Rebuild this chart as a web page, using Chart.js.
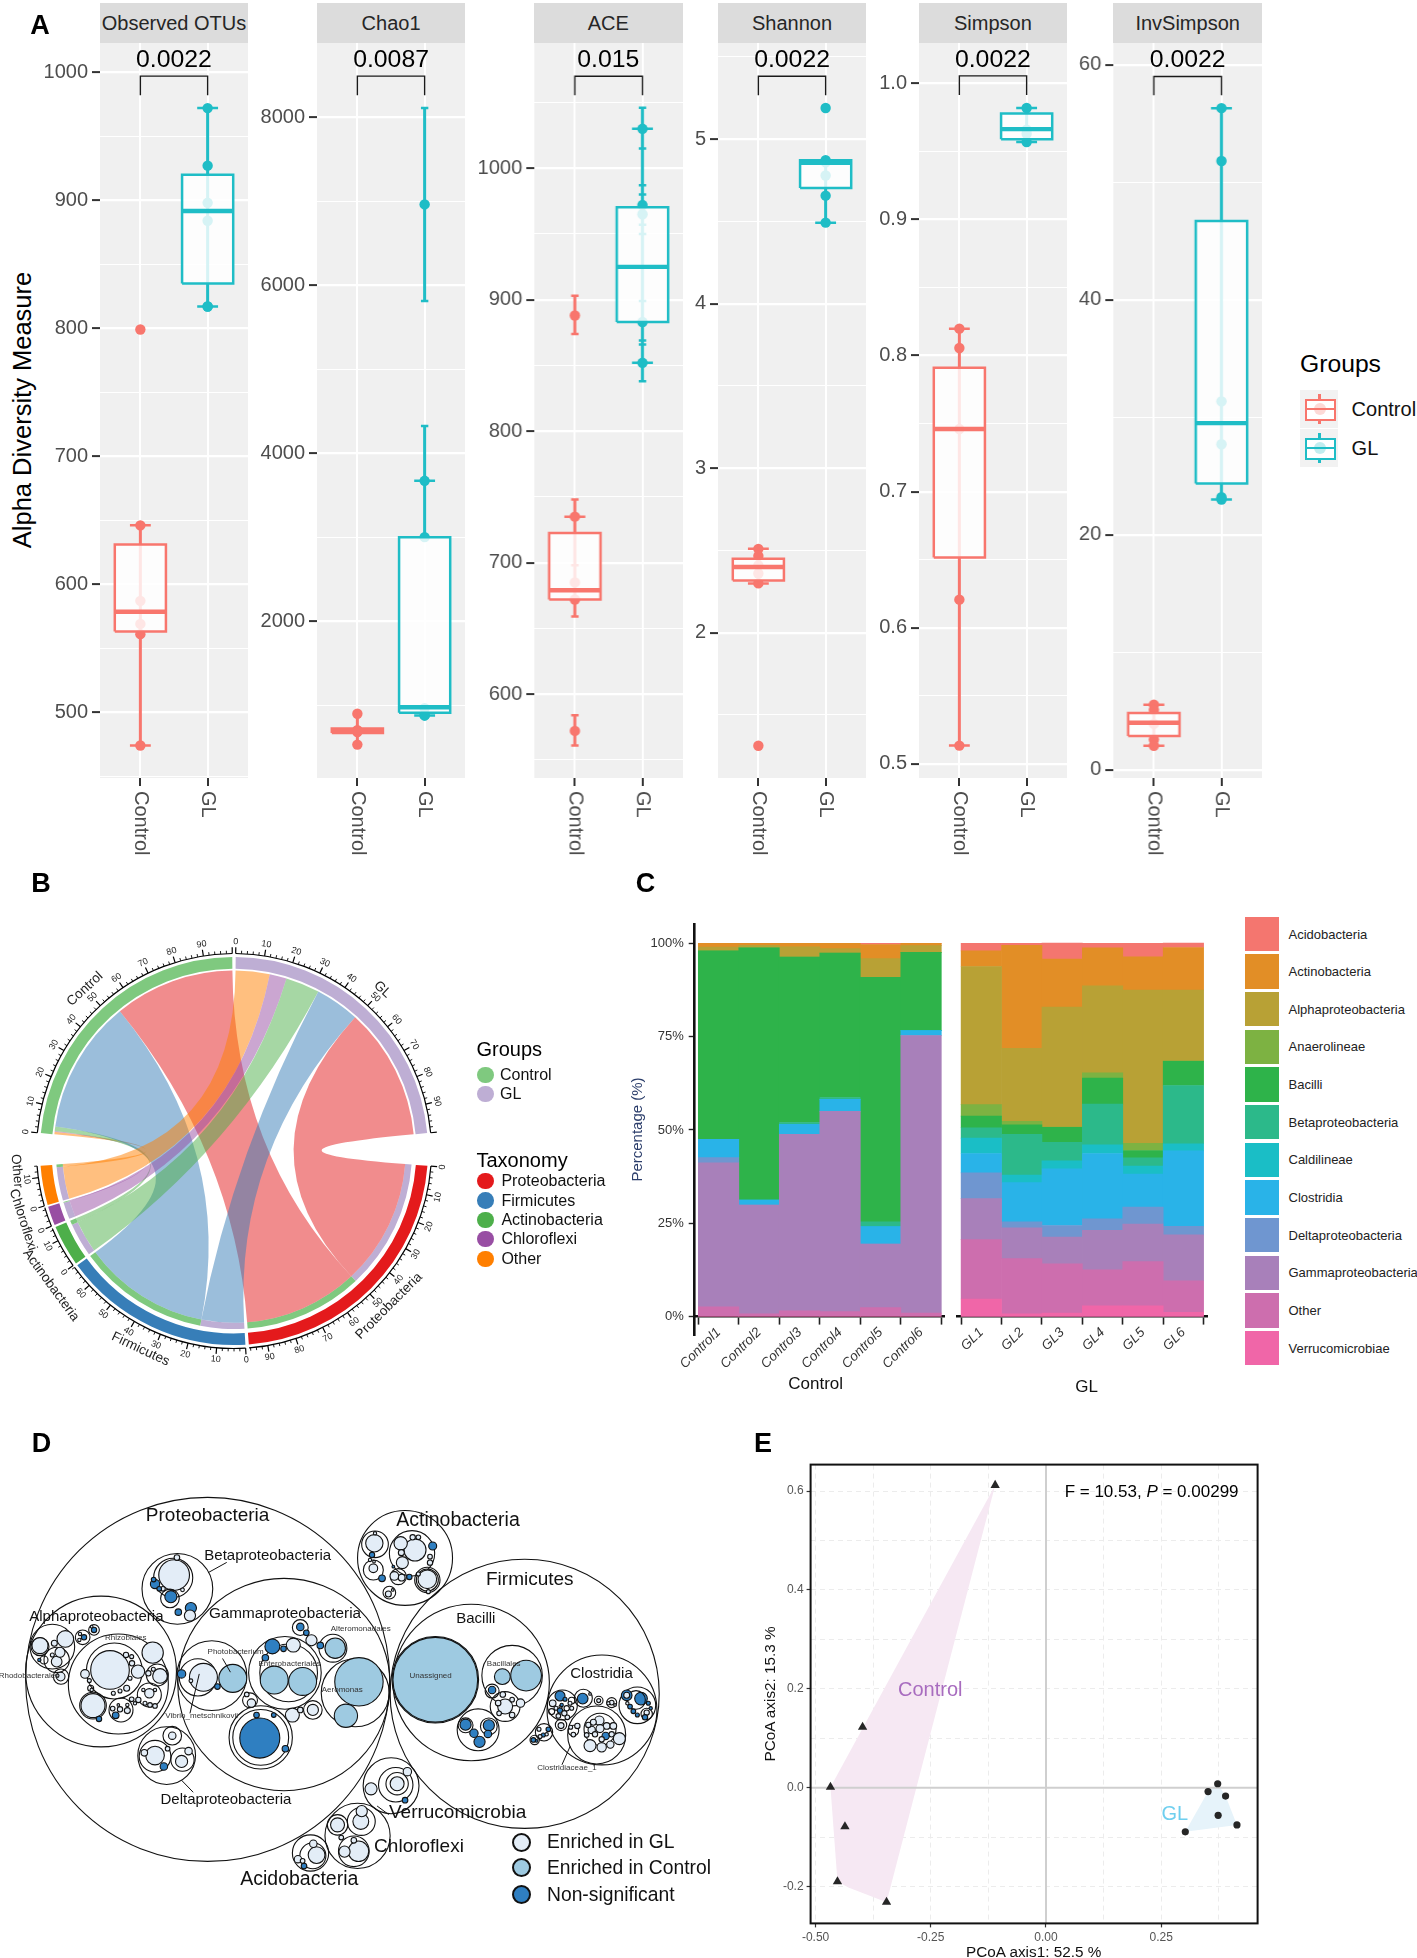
<!DOCTYPE html>
<html><head><meta charset="utf-8">
<script src="https://cdn.jsdelivr.net/npm/chart.js@4"></script>
<style>
html,body{margin:0;padding:0;background:#fff}
#page{position:relative;width:1417px;height:1958px;overflow:hidden;font-family:"Liberation Sans",Arial,sans-serif}
canvas{position:absolute}
.t{position:absolute;left:0;top:0;white-space:nowrap;line-height:1;transform-origin:0 0}
.r{position:absolute}
</style></head><body><div id="page"></div>
<script>
/* ---------- Panel A data ---------- */
const groupNames=['Control','GL'];
const otuCtrlPoints=[799,646,587,569,561,474], otuCtrlBox=[563,578.5,631], otuCtrlWhisk=[[474,646]], otuCtrlCaps=[474,646], otuCtrlSmall=[];
const otuGlPoints=[972,927,898,884,817,817], otuGlBox=[835,891.6,920], otuGlWhisk=[[817,972]], otuGlCaps=[817,972], otuGlSmall=[];
const chaoCtrlPoints=[897,700,694,680,530], chaoCtrlBox=[668,694,720], chaoCtrlWhisk=[[530,897]], chaoCtrlCaps=[], chaoCtrlSmall=[];
const chaoGlPoints=[6962,3671,3000,962,877,877], chaoGlBox=[909,975,3000], chaoGlWhisk=[[5813,8111],[3000,4324],[877,909]], chaoGlCaps=[3671,877], chaoGlSmall=[8111,5813,4324,3000];
const aceCtrlPoints=[888,735,685,672,572], aceCtrlBox=[672,679,722.6], aceCtrlWhisk=[[874,903],[659,748],[561,584]], aceCtrlCaps=[735], aceCtrlSmall=[903,874,748,698,659,584,561];
const aceGlPoints=[1030,972,965,883,852], aceGlBox=[883,925,970.4], aceGlWhisk=[[838,1046]], aceGlCaps=[1030,852], aceGlSmall=[1046,1015,987,980,957,950,899,869,866,838];
const shanCtrlPoints=[2.51,2.467,2.41,2.36,2.30,1.313], shanCtrlBox=[2.317,2.40,2.45], shanCtrlWhisk=[[2.30,2.51]], shanCtrlCaps=[2.30,2.51], shanCtrlSmall=[];
const shanGlPoints=[5.19,4.873,4.86,4.78,4.657,4.493], shanGlBox=[4.703,4.857,4.873], shanGlWhisk=[[4.493,4.873]], shanGlCaps=[4.493,4.873], shanGlSmall=[];
const simpCtrlPoints=[.8198,.8056,.746,.6206,.5133], simpCtrlBox=[.6516,.746,.791], simpCtrlWhisk=[[.5133,.8198]], simpCtrlCaps=[.5133,.8198], simpCtrlSmall=[];
const simpGlPoints=[.982,.966,.963,.957], simpGlBox=[.959,.9665,.978], simpGlWhisk=[[.957,.982]], simpGlCaps=[.957,.982], simpGlSmall=[];
const invCtrlPoints=[5.54,5.1,3.9,2.57,2.04], invCtrlBox=[2.88,4.0,4.84], invCtrlWhisk=[[2.04,5.54]], invCtrlCaps=[2.04,5.54], invCtrlSmall=[];
const invGlPoints=[56.3,51.8,31.35,27.7,23.2,23.0], invGlBox=[24.35,29.5,46.7], invGlWhisk=[[23,56.3]], invGlCaps=[23,56.3], invGlSmall=[];
const metricNames=['Observed OTUs','Chao1','ACE','Shannon','Simpson','InvSimpson'];
const metricP=['0.0022','0.0087','0.015','0.0022','0.0022','0.0022'];
const metricRange=[[448.6,1023.1],[132,8888],[536.2,1095.5],[1.117,5.587],[.4895,1.030],[-.7,61.87]];
const metricMajor=[[500,600,700,800,900,1000],[2000,4000,6000,8000],[600,700,800,900,1000],[2,3,4,5],[.5,.6,.7,.8,.9,1.0],[0,20,40,60]];
const metricMinor=[[450,550,650,750,850,950],[1000,3000,5000,7000],[550,650,750,850,950,1050],[1.5,2.5,3.5,4.5,5.5],[.55,.65,.75,.85,.95],[10,30,50]];
const metricBracket=[[982,997],[8261,8490],[1055.5,1070],[5.267,5.383],[.9915,1.0056],[57.4,59.0]];

/* ---------- Panel B data ---------- */
const chordTaxa=['Proteobacteria','Firmicutes','Actinobacteria','Chloroflexi','Other'];
const chordFromGL=[50.5,17,13,6.5,13];
const chordFromControl=[46,51,1.7,0.3,1];
const chordLabels=['GL','','Proteobacteria','','Firmicutes','','Actinobacteria','','Chloroflexi','','Other','','Control',''];
const chordTrack=[100,11.5,96.5,1.2,68,.8,14.7,.8,6.8,.6,14,11.5,100,1.2];
const chordLabelR=[1.13,0,1.13,0,1.13,0,1.17,0,1.145,0,1.125,0,1.135,0];
const chordLabelShift=[0,0,0,0,0,0,-7,0,1.5,0,5,0,0,0];
const chordColors=['#beaed4','transparent','#e41a1c','transparent','#377eb8','transparent','#4daf4a','transparent','#984ea3','transparent','#ff7f00','transparent','#7fc97f','transparent'];
const chordRibbon={Proteobacteria:'rgba(228,26,28,.5)',Firmicutes:'rgba(55,126,184,.5)',Actinobacteria:'rgba(77,175,74,.5)',Chloroflexi:'rgba(152,78,163,.5)',Other:'rgba(255,127,0,.5)'};
const groupLegendB=['Control','GL'], groupLegendBCol=['#7fc97f','#beaed4'];

/* ---------- Panel C data ---------- */
const sampleNames=['Control1','Control2','Control3','Control4','Control5','Control6','GL1','GL2','GL3','GL4','GL5','GL6'];
const taxaC=['Acidobacteria','Actinobacteria','Alphaproteobacteria','Anaerolineae','Bacilli','Betaproteobacteria','Caldilineae','Clostridia','Deltaproteobacteria','Gammaproteobacteria','Other','Verrucomicrobiae'];
const taxaCColors=['#F4766F','#E28E26','#B8A135','#7DB242','#2EB34A','#2CB98A','#1ABEC6','#29B3E8','#6F96D0','#A880BA','#CD6EAE','#F066A8'];
const acido=[0,0,0,0,.3,0, 2,.5,4.3,1.2,3.6,1.2];
const actino=[1,.5,.9,1.4,3.8,.6, 4.2,27.6,12.9,10.2,8.9,11.4];
const alpha=[1,.7,2.8,1.2,5,1.8, 37,19.6,32.1,23.3,41.1,19];
const anaero=[0,0,0,0,0,0, 3.1,.9,.1,1.4,1.9,.1];
const bacilli=[50.5,67.6,44.3,38.7,65.5,21, 3.1,2.6,4,7,2,6.5];
const beta=[0,0,.5,.5,1.3,0, 2.8,10.9,5,10.9,2.2,15.6];
const caldi=[0,0,0,0,0,0, 4.1,2,2.1,2.3,2.1,1.9];
const clostr=[4.9,1.3,2.7,3.2,4.7,1.3, 5.2,10.5,15.2,17.5,8.9,20.2];
const delta=[1.4,0,0,0,0,0, 6.9,1.6,3.1,3.1,4.5,2.3];
const gamma=[38.6,29.2,47.3,53.7,17,74.4, 11,8.3,7.2,10.6,10.1,12.3];
const otherC=[2.6,.7,1.5,1.3,2.4,.9, 15.9,14.8,13.2,9.6,11.8,8.5];
const verruc=[0,0,0,0,0,0, 4.7,.7,.9,2.9,2.9,1.1];
const seriesC=[acido,actino,alpha,anaero,bacilli,beta,caldi,clostr,delta,gamma,otherC,verruc];
const pctTicks=[0,25,50,75,100];

/* ---------- Panel D data: packed circles [x, y, radius, kind]; kind 0 outline, 1 GL, 2 Control, 3 non-significant ---------- */
const phylaCircles=[[446,756,391,0],[1127,798,289,0],[870,402,102,0],[840,1066,60,0],[768,1212,70,0],[667,1262,39,0]];
const classCircles=[[610,771,228,0],[217,733,162,0],[381,492,76,0],[358,978,62,0],[1012,765,168,0],[1293,845,118,0]];
const betaCircles=[[372,460,42,0],[374,452,33,1],[380,401,6,1],[333,478,10,3],[365,520,20,0],[367,515,13,3],[410,548,12,3],[408,570,12,1],[383,560,7,3],[350,492,5,1],[392,495,4,1],[342,492,5,3],[330,465,5,3]];
const gammaCircles=[[455,745,75,0],[425,750,40,0],[437,750,30,1],[500,753,30,2],[390,740,9,3],[467,777,6,3],[410,760,4,1],[612,737,78,0],[620,737,62,0],[589,758,30,2],[650,762,30,2],[585,660,16,3],[630,656,15,1],[609,667,6,3],[570,693,7,3],[763,795,73,0],[771,763,52,2],[743,862,25,2],[715,665,30,0],[720,665,22,2],[669,642,12,1],[645,605,17,0],[645,603,8,3],[658,620,6,3],[688,657,7,3],[560,925,68,0],[560,925,60,0],[558,927,43,3],[551,860,6,3],[588,860,5,3],[628,860,15,1],[613,958,7,3],[645,845,6,1],[672,845,20,0],[672,845,12,1],[537,817,16,0],[540,825,9,1],[530,800,5,1]];
const bacilliCircles=[[935,757,93,2],[935,757,91,0],[1100,745,65,0],[1130,745,33,2],[1079,748,17,2],[1027,903,45,0],[1000,890,16,0],[1000,888,12,3],[1050,893,18,0],[1050,890,12,3],[1018,913,9,3],[1030,938,12,3],[1048,915,8,3],[1085,835,32,0],[1085,835,16,1],[1070,825,6,1],[1057,790,15,0],[1057,787,8,3],[1118,825,9,1],[1080,800,6,1],[1100,860,6,1],[1072,855,5,1],[1100,815,5,1]];
const deltaCircles=[[333,980,34,0],[333,978,20,1],[310,970,7,1],[370,920,20,0],[370,920,8,1],[392,990,25,0],[390,995,13,1],[352,1010,8,3],[405,965,8,1],[360,958,5,1]];
const minorPhylaCircles=[[850,1063,37,0],[853,1060,24,0],[853,1060,15,1],[797,1075,13,1],[875,1025,9,1],[870,1108,6,3],[776,1170,30,0],[775,1170,17,1],[777,1140,12,1],[725,1180,22,0],[725,1180,15,1],[733,1217,5,1],[760,1257,33,0],[770,1257,22,1],[740,1258,12,1],[760,1225,6,1],[672,1270,28,0],[680,1268,18,1],[673,1235,8,1],[640,1280,8,1],[653,1300,6,3],[650,1285,5,1]];
const leaderLines=[[487,415,447,445],[390,1050,415,1085],[478,695,495,735],[428,740,408,855],[1225,950,1207,1005],[810,1125,835,1150]];
/* finer readings, in their own reading grid (origin then 3 grid units per pixel) */
const clostrOrigin=[530,1640];
const clostrCircles=[[97,195,45,0],[90,168,15,3],[105,178,6,3],[68,190,10,1],[125,182,10,0],[120,190,6,1],[92,200,5,1],[78,205,6,1],[110,205,8,0],[90,212,8,3],[103,220,8,1],[85,228,7,1],[112,232,7,1],[65,215,9,0],[125,205,6,1],[95,195,5,3],
 [160,175,27,0],[158,176,16,3],[180,162,4,1],[206,182,13,0],[206,182,6,1],[245,188,15,0],[245,188,7,1],[235,190,5,1],[255,195,4,1],
 [322,196,55,0],[333,176,19,3],[318,180,28,0],[290,166,16,3],[290,166,9,1],[350,222,17,0],[350,218,8,1],[345,232,8,3],[310,214,7,3],[300,200,7,3],[292,190,5,1],[322,225,6,3],[355,190,6,3],[362,205,5,3],
 [200,285,87,0],[210,268,48,0],[208,242,14,1],[230,258,10,1],[210,266,12,1],[185,270,11,1],[175,255,8,1],[250,258,10,1],[190,247,9,1],[227,288,11,3],[195,283,8,1],[215,298,8,1],[245,283,8,1],[170,285,7,1],
 [180,317,18,1],[215,322,14,1],[241,314,11,1],[268,296,18,1],[130,272,16,0],[130,284,7,1],[142,258,8,1],[122,262,6,1],[93,255,17,0],[93,257,9,1],
 [42,277,26,0],[27,268,6,1],[55,268,7,3],[40,285,6,3],[30,290,6,1],[50,283,5,1],[14,300,14,0],[10,300,7,3],[20,303,4,3]];
const alphaOrigin=[20,1610];
const alphaCircles=[[295,222,150,0],[283,183,84,0],[270,180,58,1],[398,128,32,1],[412,195,33,0],[420,198,22,1],[354,185,20,1],[195,192,13,1],[208,212,6,1],[212,235,9,0],[215,240,5,1],[318,135,8,1],[336,160,8,1],[335,140,6,1],[330,205,6,1],[320,235,9,1],[300,243,6,1],[280,250,6,1],[385,190,8,1],[400,178,6,1],
 [219,287,40,0],[219,287,36,1],[237,327,8,3],[303,300,36,0],[287,316,10,3],[278,296,7,1],[300,298,8,1],[322,302,9,1],[322,285,5,1],[295,285,4,1],
 [388,255,36,0],[388,250,14,1],[370,240,5,1],[405,240,5,1],[355,270,8,1],[335,268,7,1],[375,280,6,1],[390,285,7,1],[405,288,7,1],[345,280,5,1],
 [97,110,67,0],[60,110,27,0],[60,107,24,1],[136,87,25,1],[103,100,9,1],[110,150,38,0],[110,155,16,1],[120,127,15,1],[97,135,6,1],[72,150,12,0],[58,150,5,3],
 [123,200,23,0],[122,200,13,1],[112,197,5,1],[188,82,22,0],[192,82,8,3],[180,72,5,1],[178,90,5,1],[222,60,16,0],[222,60,8,3],[215,50,4,1]];
const actinoOrigin=[350,1500];
const actinoCircles=[[75,133,40,0],[73,130,26,1],[75,100,5,1],[66,165,8,3],[70,210,30,0],[70,205,13,1],[60,180,5,1],[72,185,4,1],[186,160,68,0],[195,150,33,1],[152,130,20,1],[157,188,18,1],[154,158,9,1],[188,112,8,1],[205,112,7,1],[248,138,12,3],[240,188,8,1],[240,170,7,1],[145,230,24,0],[133,228,13,1],[155,233,10,1],[178,231,8,3],[96,235,10,3],[232,240,38,0],[232,240,33,0],[232,238,28,1],[235,275,6,1],[118,278,19,0],[115,282,9,1],[128,270,4,1],[130,200,4,3],[205,222,6,1]];

/* ---------- Panel E data ---------- */
const pcoaControlX=[-.1103,-.398,-.4677,-.4363,-.4525,-.346];
const pcoaControlY=[.6118,.1228,.0014,-.0784,-.1894,-.231];
const pcoaGlX=[.3726,.3517,.3897,.3736,.4144,.3023];
const pcoaGlY=[.0083,-.0076,-.0166,-.0555,-.0749,-.0888];
const hullControlX=[-.1103,-.4677,-.4525,-.4287,-.346,-.1103];
const hullControlY=[.6118,.0014,-.1894,-.2012,-.231,.6118];
const hullGlX=[.3726,.3897,.4144,.3023,.3517,.3726];
const hullGlY=[.0083,-.0166,-.0749,-.0888,-.0076,.0083];
const pcoaXMajor=[-.5,-.25,0,.25], pcoaXMinor=[-.375,-.125,.125,.375];
const pcoaYMajor=[-.2,0,.2,.4,.6], pcoaYMinor=[-.1,.1,.3,.5];

/* ---------- helpers ---------- */
const page=document.getElementById('page');
const FF='"Liberation Sans",Arial,sans-serif';
Chart.defaults.font.family=FF;
Chart.defaults.animation=false;
Chart.defaults.layout.autoPadding=false;
Chart.defaults.plugins.legend.display=false;
Chart.defaults.plugins.tooltip.enabled=false;
Chart.defaults.events=[];
function T(s,x,y,size,o={}){
  const d=document.createElement('div');d.className='t';
  if(o.html)d.innerHTML=s;else d.textContent=s;
  d.style.fontSize=size+'px';d.style.color=o.color||'#000';
  if(o.weight)d.style.fontWeight=o.weight;
  const ax=o.anchor==='left'?0:o.anchor==='right'?-100:-50;
  d.style.transform=`translate(${x}px,${y}px) rotate(${o.rot||0}deg) translate(${ax}%,-50%)`;
  page.appendChild(d);return d;
}
function R(x,y,w,h,css){const d=document.createElement('div');d.className='r';
  Object.assign(d.style,{left:x+'px',top:y+'px',width:w+'px',height:h+'px'},css||{});page.appendChild(d);return d;}
function C(x,y,w,h){const c=document.createElement('canvas');c.width=w;c.height=h;
  c.style.left=x+'px';c.style.top=y+'px';c.style.width=w+'px';c.style.height=h+'px';page.appendChild(c);return c;}
const line=(xs,ys,color,width,order,extra)=>Object.assign({type:'scatter',data:xs.map((x,i)=>({x,y:ys[i]})),showLine:true,pointRadius:0,borderColor:color,borderWidth:width,order,tension:0,fill:false},extra||{});

/* ---------- Panel A ---------- */
const CTRL='#F8766D', TEAL='#1FBDC6';
const panelLeft=[99.7,316.8,534,717.8,918.6,1113.4], panelW=148.5, AXW=60, AH=870, PT=41.7, PB=777;
const metricData=[
 [[otuCtrlPoints,otuCtrlBox,otuCtrlWhisk,otuCtrlCaps,otuCtrlSmall],[otuGlPoints,otuGlBox,otuGlWhisk,otuGlCaps,otuGlSmall]],
 [[chaoCtrlPoints,chaoCtrlBox,chaoCtrlWhisk,chaoCtrlCaps,chaoCtrlSmall],[chaoGlPoints,chaoGlBox,chaoGlWhisk,chaoGlCaps,chaoGlSmall]],
 [[aceCtrlPoints,aceCtrlBox,aceCtrlWhisk,aceCtrlCaps,aceCtrlSmall],[aceGlPoints,aceGlBox,aceGlWhisk,aceGlCaps,aceGlSmall]],
 [[shanCtrlPoints,shanCtrlBox,shanCtrlWhisk,shanCtrlCaps,shanCtrlSmall],[shanGlPoints,shanGlBox,shanGlWhisk,shanGlCaps,shanGlSmall]],
 [[simpCtrlPoints,simpCtrlBox,simpCtrlWhisk,simpCtrlCaps,simpCtrlSmall],[simpGlPoints,simpGlBox,simpGlWhisk,simpGlCaps,simpGlSmall]],
 [[invCtrlPoints,invCtrlBox,invCtrlWhisk,invCtrlCaps,invCtrlSmall],[invGlPoints,invGlBox,invGlWhisk,invGlCaps,invGlSmall]]
];
const labelFmt=[v=>String(v),v=>String(v),v=>String(v),v=>String(v),v=>v.toFixed(1),v=>String(v)];
const panelBg={id:'panelBg',beforeDraw(c){const a=c.chartArea,x=c.ctx;x.save();x.fillStyle='#f0f0f0';x.fillRect(a.left,a.top,a.right-a.left,a.bottom-a.top);x.restore();}};
const rotLabels={id:'rotLabels',afterDraw(c){const x=c.ctx,s=c.scales.x;x.save();x.fillStyle='#4d4d4d';x.font='20px '+FF;x.textBaseline='middle';x.textAlign='left';
  [1,2].forEach(v=>{x.save();x.translate(s.getPixelForValue(v),c.chartArea.bottom+13);x.rotate(Math.PI/2);x.fillText(groupNames[v-1],0,0);x.restore();});x.restore();}};
metricNames.forEach((name,m)=>{
  const L=panelLeft[m];
  const ds=[];
  metricData[m].forEach((g,gi)=>{
    const [pts,box,wh,caps,small]=g, col=gi?TEAL:CTRL, X=gi+1, hw=.38;
    wh.forEach(w=>ds.push(line([X,X],w,col,3,5)));
    caps.forEach(v=>ds.push(line([X-.155,X+.155],[v,v],col,2.5,5)));
    small.forEach(v=>ds.push(line([X-.055,X+.055],[v,v],col,2.5,5)));
    ds.push({type:'scatter',data:pts.map(y=>({x:X,y})),pointRadius:5.2,pointBackgroundColor:col,pointBorderWidth:0,showLine:false,order:4});
    ds.push(line([X-hw,X+hw,X+hw,X-hw,X-hw],[box[0],box[0],box[2],box[2],box[0]],col,2.5,3,{fill:'shape',backgroundColor:'rgba(255,255,255,.82)'}));
    ds.push(line([X-hw,X+hw],[box[1],box[1]],col,4.4,2));
  });
  const br=metricBracket[m];
  ds.push(line([1,1,2,2],[br[0],br[1],br[1],br[0]],'#1a1a1a',1.4,1));
  const maj=metricMajor[m], min=metricMinor[m], all=maj.concat(min).sort((a,b)=>a-b);
  new Chart(C(L-AXW,1,AXW+panelW,AH),{type:'scatter',data:{datasets:ds},plugins:[panelBg,rotLabels],options:{responsive:false,
    layout:{padding:{left:0,right:0,top:PT,bottom:AH-PB-15}},
    scales:{
      x:{type:'linear',min:.4,max:2.6,afterBuildTicks:s=>{s.ticks=[{value:1},{value:2}];},afterFit:s=>{s.height=15;},
         ticks:{display:false},border:{display:false},grid:{color:'#fff',lineWidth:2,tickColor:'#333',tickLength:8,tickWidth:2}},
      y:{type:'linear',min:metricRange[m][0],max:metricRange[m][1],afterBuildTicks:s=>{s.ticks=all.map(v=>({value:v}));},afterFit:s=>{s.width=AXW;},
         ticks:{autoSkip:false,padding:4,color:'#4d4d4d',font:{size:20},callback:v=>maj.includes(v)?labelFmt[m](v):''},border:{display:false},
         grid:{color:'#fff',lineWidth:c=>maj.includes(c.tick.value)?2.2:1.1,tickColor:c=>maj.includes(c.tick.value)?'#333':'transparent',tickLength:8,tickWidth:2}}
    }}});
  R(L,3,panelW,39.7,{background:'#dcdcdc'});
  T(name,L+panelW/2,22.5,20,{color:'#262626'});
  T(metricP[m],L+panelW/2,59.7,24.8);
});
T('Alpha Diversity Measure',23,410,25.5,{rot:-90});
T('Groups',1300,364.7,24.7,{anchor:'left'});
[[CTRL,389.5,'rgba(248,118,109,.28)'],[TEAL,428.5,'rgba(31,189,198,.28)']].forEach(([col,y,f],i)=>{
  R(1300,y,38,38.5,{background:'#f2f2f2'});
  R(1318.4,y+4,2.4,30,{background:col});
  R(1304.5,y+9.5,27,17.5,{background:'#fff',border:'2.4px solid '+col});
  R(1313.5,y+13.5,12,12,{background:f,borderRadius:'50%'});
  R(1304.5,y+18,31,2.6,{background:col});
  T(groupNames[i],1351.6,y+19.5,20,{anchor:'left',color:'#111'});
});

/* ---------- Panel B ---------- */
(function(){
  const H=256, R0=194, cx=233.8, cy=1150.6;
  const colors=[], band=[];
  chordTrack.forEach((v,i)=>{
    const t=chordTaxa.indexOf(chordLabels[i]);
    if(t>=0){band.push(chordFromGL[t],chordFromControl[t]);colors.push('#beaed4','#7fc97f');}
    else{band.push(v);colors.push('transparent');}
  });
  const chord={id:'chord',afterDatasetsDraw(c){
    const x=c.ctx, trackArcs=c.getDatasetMeta(0).data, bandArcs=c.getDatasetMeta(2).data;
    const ox=trackArcs[0].x, oy=trackArcs[0].y, R=trackArcs[0].outerRadius;
    const rA=R*.93, rB=bandArcs[0].innerRadius;
    const pos=(r,a)=>[ox+r*Math.cos(a),oy+r*Math.sin(a)];
    let bi=0; const bandOf={};
    chordTrack.forEach((v,i)=>{const t=chordLabels[i];if(chordTaxa.includes(t)){bandOf[t]=[bandArcs[bi],bandArcs[bi+1]];bi+=2;}else bi+=1;});
    const ribbon=(a1,a2,b1,b2,col)=>{
      const pb=pos(rB,b1), pa=pos(rA,a1);
      x.beginPath();x.arc(ox,oy,rA,a1,a2);x.quadraticCurveTo(ox,oy,pb[0],pb[1]);x.arc(ox,oy,rB,b1,b2);x.quadraticCurveTo(ox,oy,pa[0],pa[1]);x.closePath();
      x.fillStyle=col;x.fill();
    };
    const srcs=[[chordLabels.indexOf('Control'),chordFromControl,1],[chordLabels.indexOf('GL'),chordFromGL,0]];
    srcs.forEach(([si,vals,bIdx])=>{
      const arc=trackArcs[si], per=(arc.endAngle-arc.startAngle)/chordTrack[si];
      let a=arc.startAngle;
      for(let t=chordTaxa.length-1;t>=0;t--){
        const a2=a+vals[t]*per, b=bandOf[chordTaxa[t]][bIdx];
        ribbon(a,a2,b.startAngle,b.endAngle,chordRibbon[chordTaxa[t]]);
        a=a2;
      }
    });
    x.strokeStyle='#000';x.fillStyle='#222';x.textAlign='center';x.textBaseline='middle';
    const textAt=(s,r,a,font)=>{const p=pos(r,a);x.save();x.translate(p[0],p[1]);
      x.rotate(Math.sin(a)>0.02?a-Math.PI/2:a+Math.PI/2);x.font=font;x.fillText(s,0,0);x.restore();};
    chordTrack.forEach((v,i)=>{
      if(!chordLabels[i])return;
      const arc=trackArcs[i], per=(arc.endAngle-arc.startAngle)/v;
      x.lineWidth=1.2;x.beginPath();x.arc(ox,oy,R*1.018,arc.startAngle,arc.endAngle);x.stroke();
      for(let u=0;u<=v;u+=2){
        const a=arc.startAngle+u*per, maj=u%10===0;
        const p1=pos(R*1.018,a), p2=pos(R*(maj?1.05:1.033),a);
        x.lineWidth=maj?1.2:.9;x.beginPath();x.moveTo(p1[0],p1[1]);x.lineTo(p2[0],p2[1]);x.stroke();
        if(maj&&u<100)textAt(String(u),R*1.078,a,'9px '+FF);
      }
      textAt(chordLabels[i],R*chordLabelR[i],(arc.startAngle+arc.endAngle)/2+chordLabelShift[i]*Math.PI/180,'13.5px '+FF);
    });
  }};
  new Chart(C(cx-H,cy-H,2*H,2*H),{type:'doughnut',plugins:[chord],data:{datasets:[
      {data:chordTrack,backgroundColor:chordColors,borderWidth:0,weight:.06},
      {data:[1],backgroundColor:'transparent',borderWidth:0,weight:.022},
      {data:band,backgroundColor:colors,borderWidth:0,weight:.033}]},
    options:{responsive:false,rotation:.5,cutout:'88.5%',layout:{padding:H-R0}}});
  T('Groups',476.5,1049.4,20,{anchor:'left'});
  groupLegendB.forEach((g,i)=>{const y=[1074.9,1094.2][i];
    R(477.3,y-8.3,16.6,16.6,{background:groupLegendBCol[i],borderRadius:'50%'});
    T(g,500,y,16,{anchor:'left',color:'#111'});});
  T('Taxonomy',476.5,1159.6,20,{anchor:'left'});
  const ys=[1181,1200.6,1219.9,1239,1258.8], taxCol=['#e41a1c','#377eb8','#4daf4a','#984ea3','#ff7f00'];
  chordTaxa.forEach((g,i)=>{
    R(477.3,ys[i]-8.3,16.6,16.6,{background:taxCol[i],borderRadius:'50%'});
    T(g,501.4,ys[i],16,{anchor:'left',color:'#111'});});
})();

/* ---------- Panel C ---------- */
function stackChart(x0,w,padL,padR,names,from,showY,xmin,xmax,yw){
  const datasets=taxaC.map((t,i)=>({label:t,backgroundColor:taxaCColors[i],borderWidth:0,barPercentage:1,categoryPercentage:1,
    data:seriesC[i].slice(from,from+6).map((v,k)=>({x:k+1,y:v}))})).reverse();
  new Chart(C(x0,900,w,500),{type:'bar',data:{datasets},options:{responsive:false,
    layout:{padding:{left:padL,right:padR,top:24.7,bottom:64.8}},
    scales:{
      x:{type:'linear',position:{y:0},stacked:true,min:xmin,max:xmax,offset:false,afterBuildTicks:s=>{s.ticks=[1,2,3,4,5,6].map(value=>({value}));},
         border:{display:true,color:'#111',width:2.6},grid:{drawOnChartArea:false,color:'#222',tickColor:'#222',tickLength:7,tickWidth:1.6},
         ticks:{autoSkip:false,minRotation:45,maxRotation:45,padding:1,color:'#333',font:{size:13.5,style:'italic'},callback:v=>names[v-1]||''}},
      y:{stacked:true,min:-5,max:105,display:showY,afterBuildTicks:s=>{s.ticks=pctTicks.map(value=>({value}));},afterFit:s=>{s.width=yw;},
         border:{display:true,color:'#111',width:2.6},grid:{drawOnChartArea:false,color:'#222',tickColor:'#222',tickLength:6,tickWidth:1.4},
         ticks:{autoSkip:false,padding:5,color:'#333',font:{size:13},callback:v=>v+'%'}}
    }}});
}
stackChart(620,330,0,5.7,sampleNames.slice(0,6),0,true,.411,6.574,74.7);
stackChart(950,270,7,12.8,sampleNames.slice(6),6,false,.398,6.589,0);
T('Percentage (%)',636.3,1129.5,15,{rot:-90,color:'#2c3e6b'});
T('Control',815.7,1383.4,17,{color:'#111'});
T('GL',1086.7,1386.9,17,{color:'#111'});
taxaC.forEach((t,i)=>{
  const y=916.8+i*37.64;
  R(1245.3,y,34.1,34.4,{background:taxaCColors[i]});
  T(t,1288.5,y+17.2,13,{anchor:'left',color:'#222'});
});

/* ---------- Panel D ---------- */
(function(){
  const grid=(o,list)=>list.map(c=>[(o[0]+c[0]/3)*2.148,(o[1]+c[1]/3-1420)*2.914,c[2]/3*2.148,c[3]]);
  const all=[].concat(phylaCircles,classCircles,grid(alphaOrigin,alphaCircles),betaCircles,gammaCircles,bacilliCircles,grid(clostrOrigin,clostrCircles),grid(actinoOrigin,actinoCircles),deltaCircles,minorPhylaCircles);
  const fills=['rgba(255,255,255,0)','#e3edf7','#9ecae1','#2f7fc1'];
  const ds=[{type:'bubble',order:2,clip:false,data:all.map(c=>({x:c[0],y:c[1],r:c[2]/2.148})),
     backgroundColor:all.map(c=>fills[c[3]]),borderColor:'#111',borderWidth:1.1}];
  leaderLines.forEach(l=>ds.push(line([l[0],l[2]],[l[1],l[3]],'#111',1,1,{clip:false})));
  new Chart(C(0,1420,730,538),{type:'bubble',data:{datasets:ds},options:{responsive:false,layout:{padding:0},
    scales:{x:{type:'linear',display:false,min:0,max:1568},y:{type:'linear',display:false,reverse:true,min:0,max:1568}}}});
  [['Proteobacteria',207.6,1514.4,19],['Actinobacteria',458,1519.5,19.5],['Firmicutes',529.8,1578.2,19],['Betaproteobacteria',267.7,1554.9,15],
   ['Alphaproteobacteria',96.4,1615,15],['Gammaproteobacteria',285,1613,15.3],['Deltaproteobacteria',226,1798,15],['Bacilli',475.8,1617.3,15],
   ['Clostridia',601.5,1672,15],['Verrucomicrobia',457.6,1811,19],['Chloroflexi',419,1845.5,19],['Acidobacteria',299.3,1878.8,19.5]
  ].forEach(a=>T(a[0],a[1],a[2],a[3],{color:'#111'}));
  [['Rhizobiales',125.7,1637.9],['Rhodobacterales',28.9,1675.7],['Photobacterium',235.6,1652.3],['Enterobacteriales',289.6,1663.6],['Alteromonadales',360.8,1628.6],
   ['Vibrio_metschnikovii',201.6,1716],['Aeromonas',342.2,1690.4],['Unassigned',430.6,1676.3],['Bacillales',503.7,1663.6],['Clostridiaceae_1',567,1768.3]
  ].forEach(a=>T(a[0],a[1],a[2],8,{color:'#333'}));
  [['Enriched in GL',1842.1,'#e3edf7'],['Enriched in Control',1867.8,'#9ecae1'],['Non-significant',1894.3,'#2f7fc1']].forEach(a=>{
    R(512.4,a[1]-9.5,15,15,{background:a[2],border:'2px solid #111',borderRadius:'50%'});
    T(a[0],547,a[1],19.3,{anchor:'left',color:'#111'});});
})();

/* ---------- Panel E ---------- */
(function(){
  const frame={id:'frame',afterDraw(c){const a=c.chartArea,x=c.ctx;x.save();x.strokeStyle='#111';x.lineWidth=2;x.strokeRect(a.left,a.top,a.right-a.left,a.bottom-a.top);x.restore();}};
  const xMin=-.5108,xMax=.4592,yMin=-.274,yMax=.6534;
  const xt=pcoaXMajor.concat(pcoaXMinor).sort((a,b)=>a-b), yt=pcoaYMajor.concat(pcoaYMinor).sort((a,b)=>a-b);
  const ds=[
    line(hullControlX,hullControlY,'rgba(0,0,0,0)',0,6,{fill:'shape',backgroundColor:'#F6E8F3'}),
    line(hullGlX,hullGlY,'rgba(0,0,0,0)',0,6,{fill:'shape',backgroundColor:'#E6F3FA'}),
    line([0,0],[yMin,yMax],'#cfcfcf',2,5),
    line([xMin,xMax],[0,0],'#cfcfcf',2,5),
    {type:'scatter',order:1,data:pcoaControlX.map((x,i)=>({x,y:pcoaControlY[i]})),pointStyle:'triangle',pointRadius:5.4,pointBackgroundColor:'#262626',pointBorderWidth:0},
    {type:'scatter',order:1,data:pcoaGlX.map((x,i)=>({x,y:pcoaGlY[i]})),pointStyle:'circle',pointRadius:3.6,pointBackgroundColor:'#262626',pointBorderWidth:0}
  ];
  const gridOpt=(maj)=>({color:'#ececec',lineWidth:1,tickColor:c=>maj.includes(c.tick.value)?'#333':'transparent',tickLength:4,tickWidth:1.2});
  new Chart(C(730,1420,687,538),{type:'scatter',data:{datasets:ds},plugins:[frame],options:{responsive:false,
    layout:{padding:{left:0,right:159.4,top:44.6,bottom:14.6}},
    scales:{
      x:{type:'linear',min:xMin,max:xMax,afterBuildTicks:s=>{s.ticks=xt.map(value=>({value}));},afterFit:s=>{s.height=20;},
         border:{display:false,dash:[5,4]},grid:gridOpt(pcoaXMajor),
         ticks:{autoSkip:false,maxRotation:0,padding:3,color:'#555',font:{size:12},callback:v=>pcoaXMajor.includes(v)?v.toFixed(2):''}},
      y:{type:'linear',min:yMin,max:yMax,afterBuildTicks:s=>{s.ticks=yt.map(value=>({value}));},afterFit:s=>{s.width=80.6;},
         border:{display:false,dash:[5,4]},grid:gridOpt(pcoaYMajor),
         ticks:{autoSkip:false,padding:3,color:'#555',font:{size:12},callback:v=>pcoaYMajor.includes(v)?v.toFixed(1):''}}
    }}});
  T('PCoA axis1: 52.5 %',1033.7,1952,15.3,{color:'#111'});
  T('PCoA axis2: 15.3 %',769.4,1693.9,15.3,{rot:-90,color:'#111'});
  T('F = 10.53, <i>P</i> = 0.00299',1151.6,1491.4,17,{html:true});
  T('Control',930.3,1689.4,20,{color:'#A86CBF'});
  T('GL',1174.8,1812.9,20,{color:'#6FCFEF'});
})();

/* ---------- Panel letters ---------- */
[['A',40,25],['B',41,883.5],['C',645.5,883.5],['D',41.5,1443],['E',763,1443]].forEach(a=>T(a[0],a[1],a[2],27,{weight:'bold'}));
</script></body></html>
